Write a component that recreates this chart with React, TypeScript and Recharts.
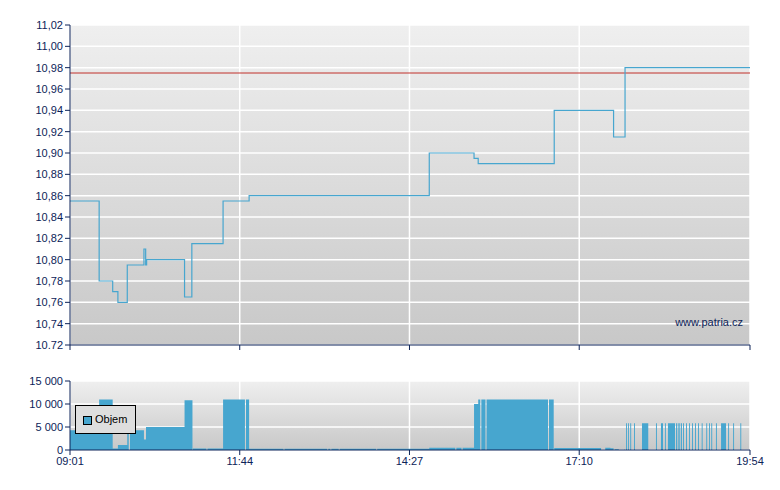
import React from 'react';
import {
  LineChart,
  Line,
  AreaChart,
  Area,
  XAxis,
  YAxis,
  CartesianGrid,
  ReferenceLine,
} from 'recharts';

// price steps (time of change, new price)
const priceTimes = [
  '09:01', '09:29', '09:42', '09:47', '09:56', '10:12', '10:13:40', '10:14:35',
  '10:51', '10:58', '11:28', '11:53', '14:46', '15:29', '15:33', '16:46',
  '17:43', '17:54', '19:54',
];
const priceValues = [
  10.855, 10.78, 10.77, 10.76, 10.795, 10.81, 10.795, 10.8,
  10.765, 10.815, 10.855, 10.86, 10.9, 10.895, 10.89, 10.94,
  10.915, 10.98, 10.98,
];
const prevClose = 10.975;

// volume blocks
const volStarts = [
  '09:01', '09:29', '09:42', '09:47', '09:56', '09:58:36', '10:12', '10:14',
  '10:51', '10:59', '11:13', '11:28', '11:50', '11:53', '12:27', '13:09',
  '13:12', '13:20', '13:56', '14:46', '15:12', '15:18', '15:29', '15:33',
  '15:36', '15:41', '16:41', '16:46', '17:35', '17:40', '17:44', '17:53',
  '17:54:54', '17:56:48', '17:59:00', '18:02:36', '18:10:18', '18:23:42', '18:28:30', '18:32:18',
  '18:35:12', '18:43:00', '18:44:36', '18:46:06', '18:47:48', '18:49:42', '18:52:36', '18:55:24',
  '18:58:18', '19:01:12', '19:04:06', '19:07:36', '19:12:00', '19:14:36', '19:16:48', '19:21:18',
  '19:26:12', '19:33:00', '19:37:48', '19:44:42',
];
const volEnds = [
  '09:29', '09:42', '09:47', '09:56', '09:57:24', '10:12', '10:14', '10:51',
  '10:58:36', '11:12', '11:28', '11:49', '11:53', '12:26', '13:08', '13:11',
  '13:19', '13:55', '14:46', '15:11', '15:17', '15:29', '15:33', '15:35',
  '15:40', '16:40', '16:45:30', '17:31', '17:40', '17:43', '17:48', '17:54',
  '17:55:48', '17:57:42', '17:59:54', '18:03:30', '18:16:18', '18:24:36', '18:30:30', '18:33:12',
  '18:42:00', '18:43:54', '18:45:30', '18:47:00', '18:48:42', '18:50:36', '18:53:30', '18:56:18',
  '18:59:12', '19:02:06', '19:05:00', '19:08:30', '19:12:54', '19:15:30', '19:17:42', '19:22:12',
  '19:31:00', '19:33:54', '19:38:42', '19:45:36',
];
const volValues = [
  4300, 11000, 300, 1100, 4300, 4300, 2300, 5000,
  10800, 300, 300, 11000, 11000, 250, 250, 250,
  250, 250, 250, 500, 500, 500, 10000, 11000,
  11000, 11000, 11000, 450, 500, 400, 150, 80,
  5800, 5800, 5800, 5800, 5800, 5800, 5800, 5800,
  5800, 5800, 5800, 5800, 5800, 5800, 5800, 5800,
  5800, 5800, 5800, 5800, 5800, 5800, 5800, 5800,
  5800, 5800, 5800, 5800,
];

const timeTicks = ['09:01', '11:44', '14:27', '17:10', '19:54'];
const priceTicks = [
  10.72, 10.74, 10.76, 10.78, 10.8, 10.82, 10.84, 10.86,
  10.88, 10.9, 10.92, 10.94, 10.96, 10.98, 11.0, 11.02,
];
const priceTickLabels = [
  '10.72', '10,74', '10,76', '10,78', '10,80', '10,82', '10,84', '10,86',
  '10,88', '10,90', '10,92', '10,94', '10,96', '10,98', '11,00', '11,02',
];
const volTicks = [0, 5000, 10000, 15000];
const volTickLabels = ['0', '5 000', '10 000', '15 000'];

const NAVY = '#0c2358';
const BLUE = '#47a6cf';
const FONT = '"Liberation Sans", Arial, sans-serif';

const toMin = (s: string) => {
  const [h, m, sec] = s.split(':').map(Number);
  return h * 60 + m + (sec || 0) / 60;
};
const fmtTime = (v: number) => {
  const h = Math.floor(v / 60);
  const m = Math.round(v - h * 60);
  return `${String(h).padStart(2, '0')}:${String(m).padStart(2, '0')}`;
};

const priceData = priceTimes.map((t, i) => ({ t: toMin(t), p: priceValues[i] }));

const volData: { t: number; v: number }[] = [];
volStarts.forEach((s, i) => {
  volData.push({ t: toMin(s), v: volValues[i] });
  volData.push({ t: toMin(volEnds[i]), v: 0 });
});
volData.push({ t: toMin('19:54'), v: 0 });

const xTickVals = timeTicks.map(toMin);
const xDomain = [toMin('09:01'), toMin('19:54')];
const tickStyle = { fill: NAVY, fontSize: 11, fontFamily: FONT };

function Background({ id }: { id: string }) {
  return (
    <defs>
      <linearGradient id={id} x1="0" y1="0" x2="0" y2="1">
        <stop offset="0%" stopColor="#efefef" />
        <stop offset="100%" stopColor="#c8c8c8" />
      </linearGradient>
    </defs>
  );
}

export default function App() {
  return (
    <div
      style={{
        position: 'absolute',
        left: 0,
        top: 0,
        width: 780,
        height: 490,
        background: '#fff',
        fontFamily: FONT,
      }}
    >
      <div style={{ position: 'absolute', left: 0, top: 0 }}>
        <LineChart
          width={780}
          height={360}
          data={priceData}
          margin={{ top: 25, right: 30, left: 0, bottom: 0 }}
        >
          {Background({ id: 'bgPrice' })}
          <CartesianGrid stroke="#ffffff" strokeWidth={1.5} fill="url(#bgPrice)" />
          <XAxis
            type="number"
            dataKey="t"
            domain={xDomain}
            ticks={xTickVals}
            interval={0}
            height={15}
            tickSize={5}
            tickFormatter={() => ''}
            stroke={NAVY}
            allowDataOverflow
          />
          <YAxis
            type="number"
            domain={[10.72, 11.02]}
            ticks={priceTicks}
            interval={0}
            width={70}
            tickSize={5}
            tick={tickStyle}
            tickFormatter={(v: number, i: number) => priceTickLabels[i]}
            stroke={NAVY}
            allowDataOverflow
          />
          <ReferenceLine y={prevClose} stroke="#c0302a" strokeWidth={1} />
          <Line
            type="stepAfter"
            dataKey="p"
            stroke={BLUE}
            strokeWidth={1.2}
            dot={false}
            isAnimationActive={false}
          />
        </LineChart>
      </div>
      <div
        style={{
          position: 'absolute',
          right: 37,
          top: 316,
          fontSize: 11,
          color: NAVY,
        }}
      >
        www.patria.cz
      </div>

      <div style={{ position: 'absolute', left: 0, top: 355 }}>
        <AreaChart
          width={780}
          height={135}
          data={volData}
          margin={{ top: 26, right: 30, left: 0, bottom: 0 }}
        >
          {Background({ id: 'bgVol' })}
          <CartesianGrid stroke="#ffffff" strokeWidth={1.5} fill="url(#bgVol)" />
          <XAxis
            type="number"
            dataKey="t"
            domain={xDomain}
            ticks={xTickVals}
            interval={0}
            height={40}
            tickSize={5}
            tick={tickStyle}
            tickFormatter={fmtTime}
            stroke={NAVY}
            allowDataOverflow
          />
          <YAxis
            type="number"
            domain={[0, 15000]}
            ticks={volTicks}
            interval={0}
            width={70}
            tickSize={5}
            tick={tickStyle}
            tickFormatter={(v: number, i: number) => volTickLabels[i]}
            stroke={NAVY}
          />
          <Area
            type="stepAfter"
            dataKey="v"
            stroke="none"
            fill={BLUE}
            fillOpacity={1}
            isAnimationActive={false}
          />
        </AreaChart>
      </div>

      <div
        style={{
          position: 'absolute',
          left: 75,
          top: 405,
          width: 59,
          height: 27,
          border: '1px solid #000',
          background: '#dedede',
        }}
      >
        <div
          style={{
            position: 'absolute',
            left: 7,
            top: 10,
            width: 7,
            height: 7,
            border: '1px solid #000',
            background: BLUE,
          }}
        />
        <div
          style={{
            position: 'absolute',
            left: 19,
            top: 7,
            fontSize: 11,
            color: '#000',
          }}
        >
          Objem
        </div>
      </div>
    </div>
  );
}
